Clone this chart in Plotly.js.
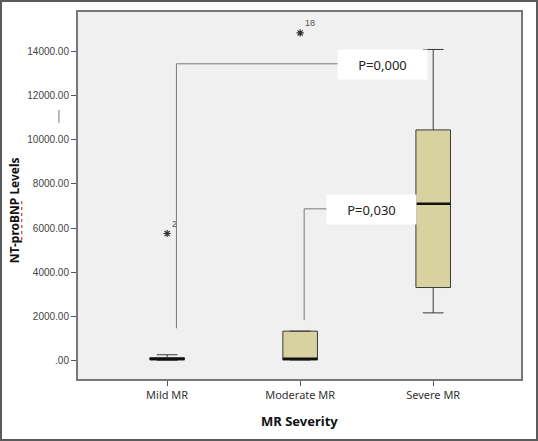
<!DOCTYPE html>
<html>
<head>
<meta charset="utf-8">
<script src="https://cdn.plot.ly/plotly-3.0.1.min.js"></script>
<style>
  body { margin: 0; background: #fff; }
  #chart { width: 538px; height: 441px; box-sizing: border-box; border: 2px solid #5a5a5a; }
</style>
</head>
<body>
<div id="chart"></div>
<script>
// Box summary values per MR group
const groups = ["Mild MR", "Moderate MR", "Severe MR"];
const lowerFence = [0, 10, 2150];
const q1 = [20, 10, 3300];
const median = [60, 70, 7100];
const q3 = [120, 1320, 10450];
const upperFence = [250, 1320, 14100];

// Extreme values (SPSS stars) with case labels
const outlierGroup = ["Mild MR", "Moderate MR"];
const outlierValue = [5750, 14850];
const outlierCase = ["2", "18"];

// Tick labels
const yTicks = [0, 2000, 4000, 6000, 8000, 10000, 12000, 14000];
const yTickText = [".00", "2000.00", "4000.00", "6000.00", "8000.00", "10000.00", "12000.00", "14000.00"];

// Significance brackets: group index offset, bottom, top, label
const pLabels = ["P=0,000", "P=0,030"];
const bracketX = [0.07, 1.03];
const bracketLow = [1450, 1820];
const bracketHigh = [13450, 6870];
const labelX = [1.62, 1.535];
const labelY = [13400, 6860];

const boxTrace = {
    type: "box",
    x: groups,
    q1: q1,
    median: median,
    q3: q3,
    lowerfence: lowerFence,
    upperfence: upperFence,
    boxpoints: false,
    width: 0.26,
    whiskerwidth: 0.6,
    fillcolor: "#d7d29f",
    line: { color: "#3a3a3a", width: 1 },
    hoverinfo: "skip",
    showlegend: false
};

const outlierTrace = {
    type: "scatter",
    mode: "markers+text",
    x: outlierGroup,
    y: outlierValue,
    text: outlierCase,
    textposition: "top right",
    textfont: { family: "Liberation Sans, Arial", size: 9, color: "#555" },
    marker: { symbol: "asterisk-open", size: 6, color: "#333", line: { color: "#333", width: 1.2 } },
    showlegend: false,
    hoverinfo: "skip"
};

const shapes = [];
// thicker median lines
median.forEach((m, i) => {
    shapes.push({
        type: "line", xref: "x", yref: "y",
        x0: i - 0.13, x1: i + 0.13, y0: m, y1: m,
        line: { color: "#111", width: 2.5 }
    });
});
// brackets
bracketX.forEach((bx, i) => {
    shapes.push({
        type: "line", xref: "x", yref: "y",
        x0: bx, x1: bx, y0: bracketLow[i], y1: bracketHigh[i],
        line: { color: "#7a7a7a", width: 1 }
    });
    shapes.push({
        type: "line", xref: "x", yref: "y",
        x0: bx, x1: labelX[i], y0: bracketHigh[i], y1: bracketHigh[i],
        line: { color: "#7a7a7a", width: 1 }
    });
});
// stray mark left of the y axis
shapes.push({
    type: "line", xref: "paper", yref: "paper",
    x0: -0.043, x1: -0.043, y0: 0.698, y1: 0.733,
    line: { color: "#777", width: 1 }
});
// red spell-check squiggle under "proBNP"
shapes.push({
    type: "line", xref: "paper", yref: "paper",
    x0: -0.127, x1: -0.127, y0: 0.379, y1: 0.493,
    line: { color: "#e03030", width: 1.2, dash: "dot" }
});

const annotations = pLabels.map((t, i) => ({
    text: t, xref: "x", yref: "y", x: labelX[i], y: labelY[i],
    showarrow: false, bgcolor: "#ffffff",
    width: 85, height: 25, borderpad: 2,
    font: { family: "Noto Sans, Open Sans, sans-serif", size: 13, color: "#222" }
}));
annotations.push({
    text: "<b>NT-proBNP Levels</b>", xref: "paper", yref: "paper",
    x: -0.1445, y: 0.46, xanchor: "center", yanchor: "middle",
    textangle: -90, showarrow: false,
    font: { family: "Noto Sans, Open Sans, sans-serif", size: 12, color: "#111" }
});
annotations.push({
    text: "<b>MR Severity</b>", xref: "paper", yref: "paper",
    x: 0.5, y: -0.115, xanchor: "center", yanchor: "middle", showarrow: false,
    font: { family: "Noto Sans, Open Sans, sans-serif", size: 13, color: "#111" }
});

Plotly.newPlot("chart", [boxTrace, outlierTrace], {
    width: 534,
    height: 437,
    margin: { l: 76, r: 15, t: 10, b: 60 },
    paper_bgcolor: "#ffffff",
    plot_bgcolor: "#f0f0f0",
    showlegend: false,
    xaxis: {
        type: "category",
        categoryarray: groups,
        range: [-0.67, 2.66],
        showgrid: false,
        zeroline: false,
        showline: true,
        mirror: true,
        linecolor: "#777",
        linewidth: 2,
        ticks: "outside",
        ticklen: 5,
        tickcolor: "#555",
        tickfont: { family: "Noto Sans, Open Sans, sans-serif", size: 11, color: "#333" }
    },
    yaxis: {
        range: [-850, 15800],
        tickvals: yTicks,
        ticktext: yTickText,
        showgrid: false,
        zeroline: false,
        showline: true,
        mirror: true,
        linecolor: "#777",
        linewidth: 2,
        ticks: "outside",
        ticklen: 5,
        tickcolor: "#555",
        tickfont: { family: "Liberation Sans, Arial", size: 10, color: "#444" }
    },
    shapes: shapes,
    annotations: annotations
}, { displayModeBar: false, staticPlot: true });
</script>
</body>
</html>
